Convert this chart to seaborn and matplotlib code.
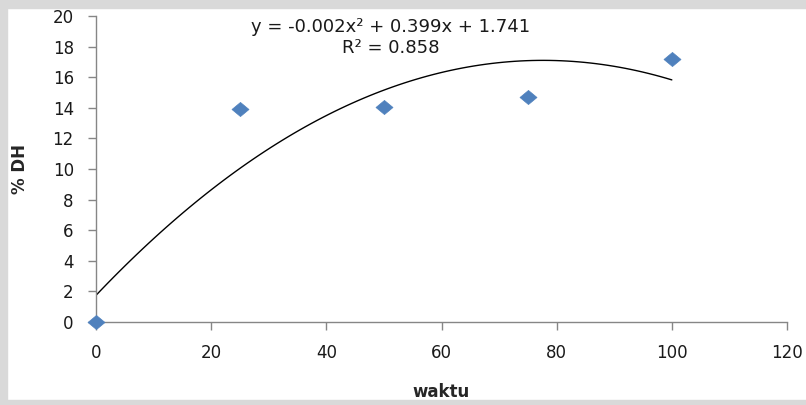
import numpy as np
import pandas as pd
import seaborn as sns
import matplotlib.pyplot as plt
from matplotlib.patches import Rectangle
from matplotlib.path import Path

# data
waktu = [0, 25, 50, 75, 100]
dh = [0.0, 13.9, 14.05, 14.7, 17.2]
x_ticks = [0, 20, 40, 60, 80, 100, 120]
y_ticks = [0, 2, 4, 6, 8, 10, 12, 14, 16, 18, 20]
equation = "y = -0.002x\u00b2 + 0.399x + 1.741\nR\u00b2 = 0.858"

df = pd.DataFrame({"waktu": waktu, "dh": dh})

sns.set_theme(style="white")
plt.rcParams["font.family"] = ["DejaVu Sans"]

W, H = 806, 405
fig = plt.figure(figsize=(W / 100, H / 100), dpi=100, facecolor="white")

# light gray frame around the page
gray = "#d9d9d9"
fig.patches.append(Rectangle((0, 0), 1, 5 / H, transform=fig.transFigure, color=gray, zorder=0))
fig.patches.append(Rectangle((0, 1 - 8 / H), 1, 8 / H, transform=fig.transFigure, color=gray, zorder=0))
fig.patches.append(Rectangle((0, 0), 7 / W, 1, transform=fig.transFigure, color=gray, zorder=0))

ax = fig.add_axes([96 / W, 1 - 322 / H, (787 - 96) / W, (322 - 16) / H])
ax.set_facecolor("none")

diamond = Path([(-1, 0), (0, 0.83), (1, 0), (0, -0.83), (-1, 0)],
               [Path.MOVETO, Path.LINETO, Path.LINETO, Path.LINETO, Path.CLOSEPOLY])

sns.regplot(data=df, x="waktu", y="dh", order=2, ci=None, scatter=False,
            line_kws=dict(color="black", lw=1.0), ax=ax)
sns.scatterplot(data=df, x="waktu", y="dh", marker=diamond, s=150,
                color="#4f81bd", edgecolor="#4f81bd", linewidth=0.5, ax=ax,
                zorder=5, clip_on=False)

ax.set_xlim(0, 120)
ax.set_ylim(0, 20)
ax.set_xticks(x_ticks)
ax.set_yticks(y_ticks)
ax.set_xticklabels([str(v) for v in x_ticks])
ax.set_yticklabels([str(v) for v in y_ticks])

for s in ["top", "right"]:
    ax.spines[s].set_visible(False)
for s in ["left", "bottom"]:
    ax.spines[s].set_color("#868686")
    ax.spines[s].set_linewidth(1.0)

ax.tick_params(axis="both", which="major", direction="out", length=6, width=1,
               color="#868686", labelsize=12, labelcolor="#1a1a1a",
               bottom=True, left=True)
ax.tick_params(axis="x", pad=10)
ax.tick_params(axis="y", pad=10)

ax.set_xlabel("waktu", fontsize=12, fontweight="bold", labelpad=15)
ax.set_ylabel("% DH", fontsize=12, fontweight="bold", labelpad=17)

ax.text(51.2, 19.9, equation, ha="center", va="top", multialignment="center",
        fontsize=13, linespacing=1.25, color="#1a1a1a")

fig.savefig("out.png", dpi=100, facecolor=fig.get_facecolor())
